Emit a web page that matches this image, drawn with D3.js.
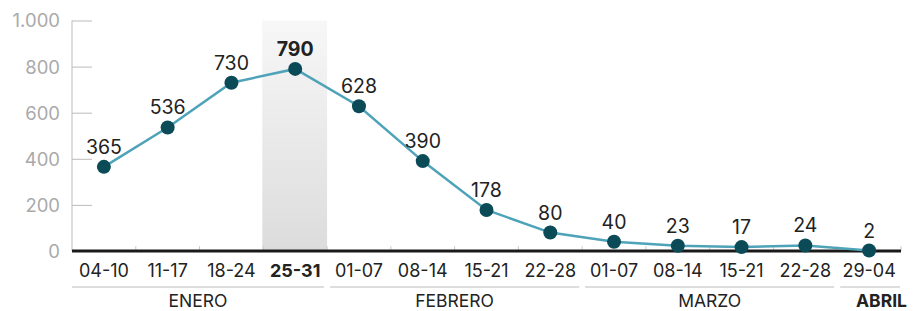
<!DOCTYPE html>
<html lang="es">
<head>
<meta charset="UTF-8">
<script src="https://cdn.jsdelivr.net/npm/d3@7"></script>
<style>
body { margin:0; background:#fff; }
text { font-family: Inter, "Open Sans", sans-serif; }
</style>
<title>Casos semanales</title>
</head>
<body>
<script>
// weekly values
var weeks = ["04-10","11-17","18-24","25-31","01-07","08-14","15-21","22-28","01-07","08-14","15-21","22-28","29-04"];
var values = [365, 536, 730, 790, 628, 390, 178, 80, 40, 23, 17, 24, 2];
var months = ["ENERO","FEBRERO","MARZO","ABRIL"];
var monthStart = [0, 4, 8, 12];
var monthEnd = [3, 7, 11, 12];
var yTicks = [0, 200, 400, 600, 800, 1000];
var highlight = 3;

var W = 922, H = 311;
var svg = d3.select("body").append("svg").attr("width", W).attr("height", H);

var ids = d3.range(weeks.length);
var x = d3.scaleBand().domain(ids).range([72, 901]);
var y = d3.scaleLinear().domain([0, 1000]).range([251, 20.5]);

// highlight band
var defs = svg.append("defs");
var grad = defs.append("linearGradient").attr("id", "hl").attr("x1", 0).attr("y1", 0).attr("x2", 0).attr("y2", 1);
grad.append("stop").attr("offset", "0%").attr("stop-color", "#f7f7f7");
grad.append("stop").attr("offset", "100%").attr("stop-color", "#dcdcdd");
svg.append("rect")
    .attr("x", x(highlight) - 1).attr("y", y(1000))
    .attr("width", x.bandwidth() + 1).attr("height", y(0) - y(1000))
    .attr("fill", "url(#hl)");

// y axis
var yAxis = svg.append("g").attr("transform", "translate(72,0)")
    .call(d3.axisRight(y).tickValues(yTicks).tickSize(20).tickFormat(function(d) { return d3.format(",")(d).replace(",", "."); }));
yAxis.select(".domain").attr("stroke", "#bbb").attr("d", "M0," + y(1000) + "V" + y(0));
yAxis.selectAll(".tick line").attr("stroke", "#bbb");
yAxis.selectAll(".tick text")
    .attr("x", -12).attr("text-anchor", "end").attr("dy", "0.35em")
    .attr("fill", "#aaa").style("font-size", "18.5px");

// small ticks at band edges
svg.selectAll(".edge").data(d3.range(1, weeks.length + 1)).enter().append("line")
    .attr("x1", function(i) { return x.range()[0] + i * x.step(); })
    .attr("x2", function(i) { return x.range()[0] + i * x.step(); })
    .attr("y1", y(0) - 5).attr("y2", y(0))
    .attr("stroke", "#ccc");

// baseline
svg.append("line").attr("x1", 72).attr("x2", 901).attr("y1", y(0)).attr("y2", y(0))
    .attr("stroke", "#1a1a1a").attr("stroke-width", 3);

// week labels
svg.selectAll(".wk").data(ids).enter().append("text")
    .attr("x", function(i) { return x(i) + x.bandwidth() / 2; })
    .attr("y", 277)
    .attr("text-anchor", "middle")
    .attr("fill", "#222")
    .style("font-size", "18px")
    .style("font-weight", function(i) { return i === highlight ? "bold" : "normal"; })
    .text(function(i) { return weeks[i]; });

// month groups
months.forEach(function(m, k) {
    var last = k === months.length - 1;
    var x0 = x(monthStart[k]) + (k === 0 ? 0 : 3);
    var x1 = x(monthEnd[k]) + x.bandwidth() - (last ? 1 : 3);
    svg.append("line").attr("x1", x0).attr("x2", x1).attr("y1", 287).attr("y2", 287)
        .attr("stroke", "#bbb").attr("stroke-width", 1);
    svg.append("text")
        .attr("x", last ? x1 + 7 : (x0 + x1) / 2)
        .attr("y", 307)
        .attr("text-anchor", last ? "end" : "middle").attr("fill", "#222")
        .style("font-size", "17.5px")
        .style("font-weight", last ? "bold" : "normal")
        .text(m);
});

// line
var line = d3.line()
    .x(function(i) { return x(i) + x.bandwidth() / 2; })
    .y(function(i) { return y(values[i]); });
svg.append("path").datum(ids).attr("d", line)
    .attr("fill", "none").attr("stroke", "#4ea3b8").attr("stroke-width", 2.5);

svg.selectAll(".dot").data(ids).enter().append("circle")
    .attr("cx", function(i) { return x(i) + x.bandwidth() / 2; })
    .attr("cy", function(i) { return y(values[i]); })
    .attr("r", 7)
    .attr("fill", "#0b4b57");

svg.selectAll(".val").data(ids).enter().append("text")
    .attr("x", function(i) { return x(i) + x.bandwidth() / 2; })
    .attr("y", function(i) { return y(values[i]) - 13; })
    .attr("text-anchor", "middle").attr("fill", "#222")
    .style("font-size", "19.5px")
    .style("font-weight", function(i) { return i === highlight ? "bold" : "normal"; })
    .text(function(i) { return values[i]; });
</script>
</body>
</html>
